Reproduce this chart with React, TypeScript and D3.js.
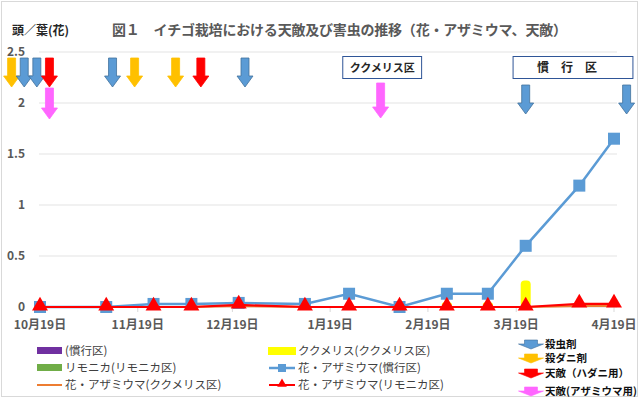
import React from 'react';
import * as d3 from 'd3';

// survey dates (x axis is a date axis, ticks every month on the 19th)
const surveyDates = ['2016-10-19', '2016-11-09', '2016-11-24', '2016-12-06', '2016-12-21', '2017-01-11', '2017-01-25', '2017-02-10', '2017-02-25', '2017-03-10', '2017-03-22', '2017-04-08', '2017-04-19'];

// line series: 花・アザミウマ
const thripsKanko = [0, 0, 0.03, 0.03, 0.04, 0.03, 0.13, 0, 0.13, 0.13, 0.6, 1.19, 1.65];
const thripsKukumerisu = [0, 0, 0, 0, 0.01, 0, 0, 0, 0, 0, 0, 0.01, 0.01];
const thripsRimonika = [0, 0, 0, 0, 0.02, 0, 0, 0, 0, 0, 0, 0.03, 0.03];

// column series: 天敵
const enemyKanko = [0, 0, 0, 0, 0, 0, 0, 0, 0, 0, 0, 0, 0];
const enemyKukumerisu = [0, 0, 0, 0, 0, 0, 0, 0, 0.05, 0.05, 0.26, 0, 0];
const enemyRimonika = [0, 0, 0, 0, 0, 0, 0, 0, 0, 0, 0, 0, 0];

const yTicks = [0, 0.5, 1, 1.5, 2, 2.5];
const xTickDates = ['2016-10-19', '2016-11-19', '2016-12-19', '2017-01-19', '2017-02-19', '2017-03-19', '2017-04-19'];

// spray / release events
const topArrows = [
  { date: '2016-10-10', kind: 'mite' },
  { date: '2016-10-14', kind: 'insect' },
  { date: '2016-10-18', kind: 'insect' },
  { date: '2016-10-22', kind: 'hadani' },
  { date: '2016-10-22', kind: 'thrips' },
  { date: '2016-11-11', kind: 'insect' },
  { date: '2016-11-18', kind: 'mite' },
  { date: '2016-12-01', kind: 'mite' },
  { date: '2016-12-09', kind: 'hadani' },
  { date: '2016-12-23', kind: 'insect' },
];
const lowerArrows = [
  { date: '2017-02-04', kind: 'thrips' },
  { date: '2017-03-22', kind: 'insect' },
  { date: '2017-04-23', kind: 'insect' },
];

const arrowKinds = ['insect', 'mite', 'hadani', 'thrips'];
const arrowLabels = ['殺虫剤', '殺ダニ剤', '天敵（ハダニ用）', '天敵(アザミウマ用)'];
const arrowFill: Record<string, string> = { insect: '#5B9BD5', mite: '#FFC000', hadani: '#FF0000', thrips: '#FF66FF' };
const arrowStroke: Record<string, string> = { insect: '#41719C', mite: '#FFC000', hadani: '#FF0000', thrips: '#FF66FF' };

const parse = d3.timeParse('%Y-%m-%d');
const FONT = '"Noto Sans CJK JP", "Noto Sans", sans-serif';

// down-pointing block arrow
function downArrow(cx: number, top: number, w: number, h: number, shaft: number, head: number) {
  const s = shaft / 2;
  const hw = w / 2;
  const hy = top + h - head;
  return `M${cx - s},${top}L${cx + s},${top}L${cx + s},${hy}L${cx + hw},${hy}L${cx},${top + h}L${cx - hw},${hy}L${cx - s},${hy}Z`;
}

export default function App() {
  const width = 640;
  const height = 399;
  const plot = { left: 39, right: 617, top: 52, bottom: 307 };

  const x = d3.scaleTime()
    .domain([parse('2016-10-19')!, parse('2017-04-19')!])
    .range([40, 614]);
  const y = d3.scaleLinear().domain([0, 2.5]).range([plot.bottom, plot.top]);

  const dates = surveyDates.map((d) => parse(d)!);
  const line = d3.line<number>()
    .x((_, i) => x(dates[i]))
    .y((v) => y(v));

  const barGroups = ['kanko', 'kukumerisu', 'rimonika'];
  const barSeries = [enemyKanko, enemyKukumerisu, enemyRimonika];
  const barColors = ['#7030A0', '#FFFF00', '#70AD47'];
  const sub = d3.scaleBand().domain(barGroups).range([-15, 15]).paddingInner(0);

  const tri = d3.symbol().type(d3.symbolTriangle).size(110)();

  const arrowMarks: { cx: number; top: number; h: number; kind: string }[] = [];
  topArrows.forEach((a, i) => {
    const stack = topArrows.slice(0, i).filter((b) => b.date === a.date).length;
    arrowMarks.push({ cx: x(parse(a.date)!), top: 58 + stack * 30, h: stack ? 31 : 29, kind: a.kind });
  });
  lowerArrows.forEach((a) => {
    arrowMarks.push({ cx: x(parse(a.date)!), top: a.kind === 'thrips' ? 83 : 85, h: a.kind === 'thrips' ? 35 : 29, kind: a.kind });
  });

  const kuk = [x(parse('2017-01-23')!), x(parse('2017-02-17')!)];
  const kan = [x(parse('2017-03-18')!), x(parse('2017-04-25')!)];

  return (
    <svg width={width} height={height} style={{ position: 'absolute', left: 0, top: 0, background: '#fff' }} fontFamily={FONT}>
      <rect x={1.5} y={1.5} width={636} height={395} fill="#fff" stroke="#D9D9D9" />

      {/* titles */}
      <text x={112} y={35} fontSize={14} fontWeight="bold" fill="#595959" textLength={455} lengthAdjust="spacing">図１　イチゴ栽培における天敵及び害虫の推移（花・アザミウマ、天敵）</text>
      <text x={12} y={35} fontSize={12} fontWeight="bold" fill="#262626">頭／葉(花)</text>

      {/* grid + y axis */}
      {yTicks.map((t) => (
        <g key={t}>
          {t > 0 && <line x1={plot.left} x2={plot.right} y1={y(t)} y2={y(t)} stroke="#E3E3E3" strokeWidth={1} />}
          <text x={25} y={y(t)} dy="0.35em" textAnchor="end" fontSize={12} fontWeight="bold" fill="#595959">{t}</text>
        </g>
      ))}

      {/* x axis */}
      <line x1={plot.left} x2={plot.right} y1={plot.bottom} y2={plot.bottom} stroke="#D9D9D9" />
      {xTickDates.map((d) => {
        const dt = parse(d)!;
        return (
          <g key={d}>
            <line x1={x(dt)} x2={x(dt)} y1={plot.bottom} y2={plot.bottom + 5} stroke="#D9D9D9" />
            <text x={x(dt)} y={325} dy="0.35em" textAnchor="middle" fontSize={12} fontWeight="bold" fill="#595959">
              {`${dt.getMonth() + 1}月${dt.getDate()}日`}
            </text>
          </g>
        );
      })}

      {/* columns */}
      {barSeries.map((vals, s) =>
        vals.map((v, i) => v > 0 && (
          <rect key={`${s}-${i}`} x={x(dates[i]) + sub(barGroups[s])!} width={sub.bandwidth()}
            y={y(v)} height={y(0) - y(v)} rx={4} fill={barColors[s]} />
        ))
      )}

      {/* lines */}
      <path d={line(thripsKukumerisu)!} fill="none" stroke="#ED7D31" strokeWidth={2.2} />
      <path d={line(thripsKanko)!} fill="none" stroke="#5B9BD5" strokeWidth={2.5} />
      {thripsKanko.map((v, i) => (
        <rect key={i} x={x(dates[i]) - 6} y={y(v) - 6} width={12} height={12} fill="#5B9BD5" />
      ))}
      <path d={line(thripsRimonika)!} fill="none" stroke="#FF0000" strokeWidth={2.2} />
      {thripsRimonika.map((v, i) => (
        <path key={i} d={tri!} transform={`translate(${x(dates[i])},${y(v) - 1})`} fill="#FF0000" />
      ))}

      {/* event arrows */}
      {arrowMarks.map((a, i) => (
        <path key={i} d={downArrow(a.cx, a.top, 16, a.h, 8, 11)} fill={arrowFill[a.kind]} stroke={arrowStroke[a.kind]} strokeWidth={0.8} />
      ))}

      {/* annotation boxes */}
      <rect x={kuk[0]} y={56.5} width={kuk[1] - kuk[0]} height={22} fill="#fff" stroke="#2F5597" />
      <text x={(kuk[0] + kuk[1]) / 2} y={68} dy="0.35em" textAnchor="middle" fontSize={11} fontWeight="bold" fill="#262626">ククメリス区</text>
      <rect x={kan[0]} y={56.5} width={kan[1] - kan[0]} height={22} fill="#fff" stroke="#2F5597" />
      <text x={(kan[0] + kan[1]) / 2 - 6} y={68} dy="0.35em" textAnchor="middle" fontSize={12} fontWeight="bold" fill="#262626">慣　行　区</text>

      {/* legend */}
      <g fontSize={11.5} fill="#404040">
        <rect x={37} y={347} width={25} height={7} fill="#7030A0" />
        <text x={65} y={351} dy="0.35em">(慣行区)</text>
        <rect x={37} y={364} width={25} height={7} fill="#70AD47" />
        <text x={65} y={368} dy="0.35em">リモニカ(リモニカ区)</text>
        <line x1={37} x2={62} y1={385} y2={385} stroke="#ED7D31" strokeWidth={2} />
        <text x={65} y={385} dy="0.35em">花・アザミウマ(ククメリス区)</text>

        <rect x={268} y={347} width={28} height={8} fill="#FFFF00" />
        <text x={298} y={351} dy="0.35em">ククメリス(ククメリス区)</text>
        <line x1={269} x2={295} y1={368} y2={368} stroke="#5B9BD5" strokeWidth={2.5} />
        <rect x={278} y={364} width={8} height={8} fill="#5B9BD5" />
        <text x={298} y={368} dy="0.35em">花・アザミウマ(慣行区)</text>
        <line x1={269} x2={295} y1={385} y2={385} stroke="#FF0000" strokeWidth={2} />
        <path d={d3.symbol().type(d3.symbolTriangle).size(40)()!} transform="translate(282,384)" fill="#FF0000" />
        <text x={298} y={385} dy="0.35em">花・アザミウマ(リモニカ区)</text>
      </g>

      {/* arrow legend */}
      {arrowKinds.map((k, i) => {
        const ty = [344, 358, 373, 391][i];
        return (
          <g key={k}>
            <path d={downArrow(531, ty - 4, 25, 9, 13, 5)} fill={arrowFill[k]} stroke={arrowStroke[k]} strokeWidth={0.6} />
            <text x={545} y={ty} dy="0.35em" fontSize={10.5} fontWeight="bold" fill="#111">{arrowLabels[i]}</text>
          </g>
        );
      })}
    </svg>
  );
}
